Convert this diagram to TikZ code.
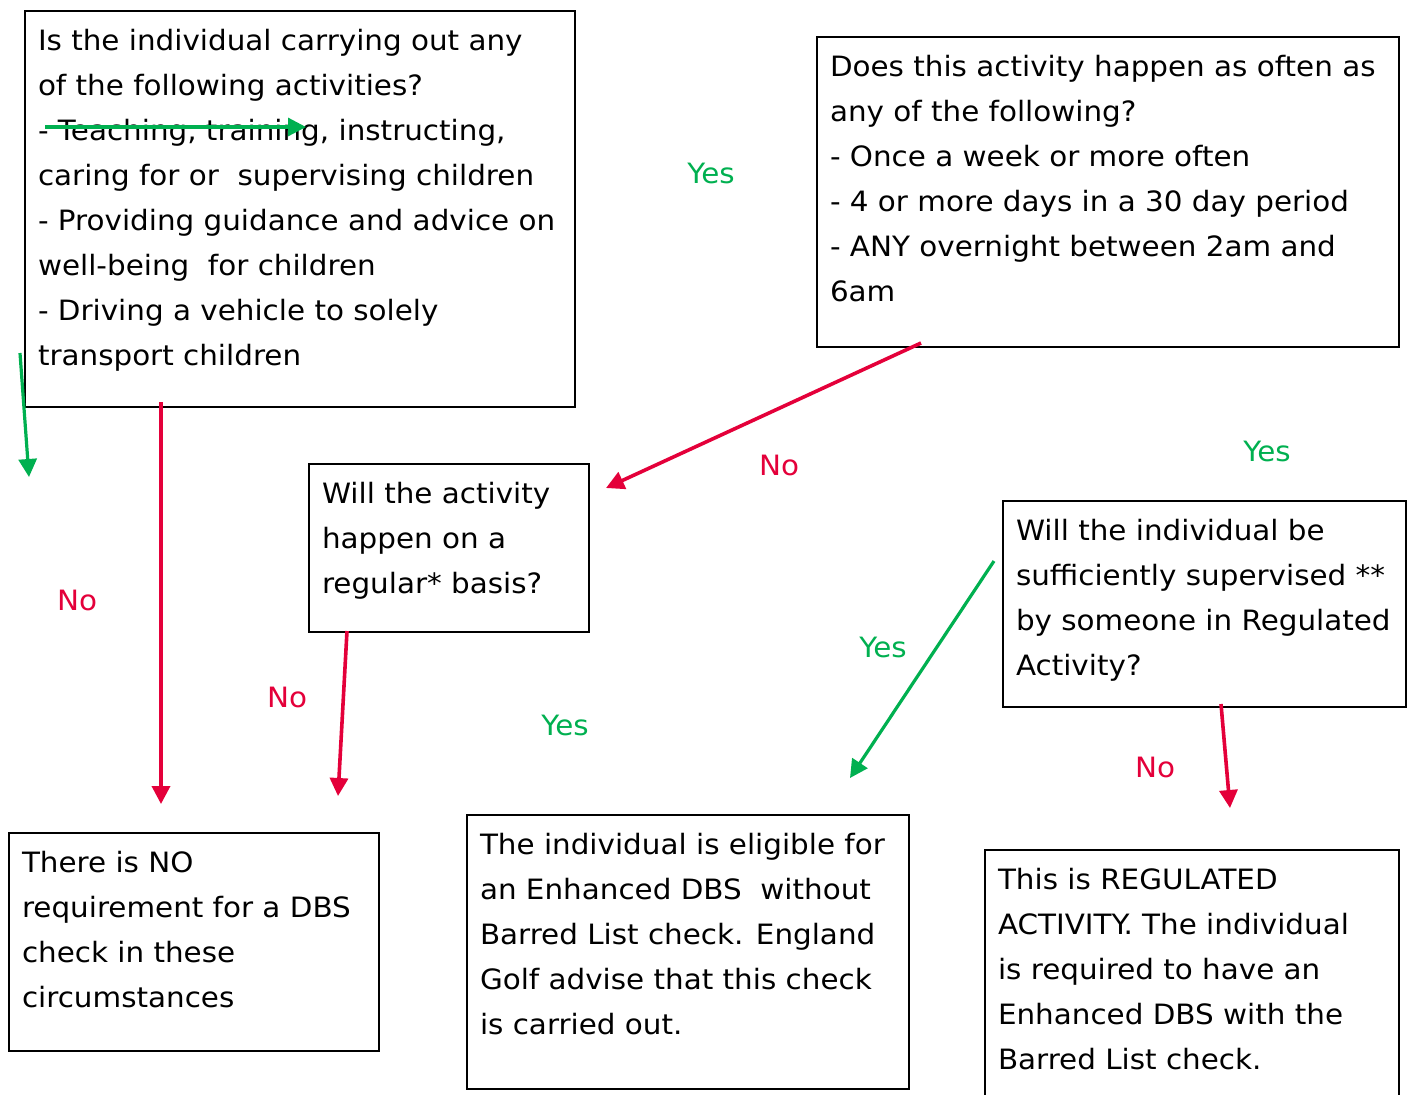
\documentclass[tikz,border=0pt]{standalone}
\usepackage{fontspec}
\setmainfont[FakeStretch=1.05]{DejaVu Sans}
\usetikzlibrary{arrows.meta}
\definecolor{flowgreen}{RGB}{0, 176, 80}
\definecolor{flowred}{RGB}{228, 0, 58}

% top aligned text inside a fixed size box
\newcommand{\boxtext}[3]{\parbox[c][#2][t]{#1}{\raggedright\rule{0pt}{19.5pt}#3}}

\begin{document}
\begin{tikzpicture}[
    x=0.5pt, y=-0.5pt,
    qbox/.style={rectangle, draw=black, line width=1pt, anchor=north west,
                 inner xsep=6.5pt, inner ysep=0pt,
                 font=\fontsize{14pt}{22.5pt}\selectfont},
    yeslabel/.style={text=flowgreen, font=\fontsize{14pt}{16pt}\selectfont},
    nolabel/.style={text=flowred, font=\fontsize{14pt}{16pt}\selectfont},
    yesarrow/.style={draw=flowgreen, line width=1.6pt,
                     -{Triangle[length=9pt, width=9pt]}},
    noarrow/.style={draw=flowred, line width=1.8pt,
                    -{Triangle[length=9pt, width=9pt]}}
  ]
    \fill[white] (0,0) rectangle (1407,1094);
    \useasboundingbox (0,0) rectangle (1407,1094);

    % question boxes
    \node[qbox] (activities) at (24,10) {\boxtext{262pt}{198pt}{%
      Is the individual carrying out any\\
      of the following activities?\\
      - Teaching, training, instructing,\\
      caring for or\ \ supervising children\\
      - Providing guidance and advice on\\
      well-being\ \ for children\\
      - Driving a vehicle to solely\\
      transport children}};
    \node[qbox] (often) at (816,36) {\boxtext{278pt}{155pt}{%
      Does this activity happen as often as\\
      any of the following?\\
      - Once a week or more often\\
      - 4 or more days in a 30 day period\\
      - ANY overnight between 2am and\\
      6am}};
    \node[qbox] (regular) at (308,463) {\boxtext{127pt}{84pt}{%
      Will the activity\\
      happen on a\\
      regular* basis?}};
    \node[qbox] (supervised) at (1002,500) {\boxtext{188.5pt}{103pt}{%
      Will the individual be\\
      sufficiently supervised **\\
      by someone in Regulated\\
      Activity?}};

    % outcome boxes
    \node[qbox] (nocheck) at (8,832) {\boxtext{172pt}{109pt}{%
      There is NO\\
      requirement for a DBS\\
      check in these\\
      circumstances}};
    \node[qbox] (enhanced) at (466,814) {\boxtext{208pt}{137pt}{%
      The individual is eligible for\\
      an Enhanced DBS\ \ without\\
      Barred List check. England\\
      Golf advise that this check\\
      is carried out.}};
    \node[qbox] (regulated) at (984,849) {\boxtext{194pt}{130pt}{%
      This is REGULATED\\
      ACTIVITY. The individual\\
      is required to have an\\
      Enhanced DBS with the\\
      Barred List check.}};

    % arrow ends
    \coordinate (g1a) at (45,127);
    \coordinate (g1b) at (306,127);
    \coordinate (g2a) at (20,353);
    \coordinate (g2b) at (29,477);
    \coordinate (r1a) at (161,402);
    \coordinate (r1b) at (161,804);
    \coordinate (r2a) at (921,343);
    \coordinate (r2b) at (606,488);
    \coordinate (r3a) at (347,631);
    \coordinate (r3b) at (338,796);
    \coordinate (g3a) at (994,561);
    \coordinate (g3b) at (850,778);
    \coordinate (r4a) at (1221,704);
    \coordinate (r4b) at (1230,808);

    \draw[yesarrow] (g1a) -- (g1b);
    \draw[yesarrow] (g2a) -- (g2b);
    \draw[noarrow] (r1a) -- (r1b);
    \draw[noarrow] (r2a) -- (r2b);
    \draw[noarrow] (r3a) -- (r3b);
    \draw[yesarrow] (g3a) -- (g3b);
    \draw[noarrow] (r4a) -- (r4b);

    % labels
    \node[yeslabel] (yes1) at (711,173) {Yes};
    \node[yeslabel] (yes2) at (1267,451) {Yes};
    \node[yeslabel] (yes3) at (565,725) {Yes};
    \node[yeslabel] (yes4) at (883,647) {Yes};
    \node[nolabel] (no1) at (779,465) {No};
    \node[nolabel] (no2) at (77,600) {No};
    \node[nolabel] (no3) at (287,697) {No};
    \node[nolabel] (no4) at (1155,767) {No};
\end{tikzpicture}
\end{document}
